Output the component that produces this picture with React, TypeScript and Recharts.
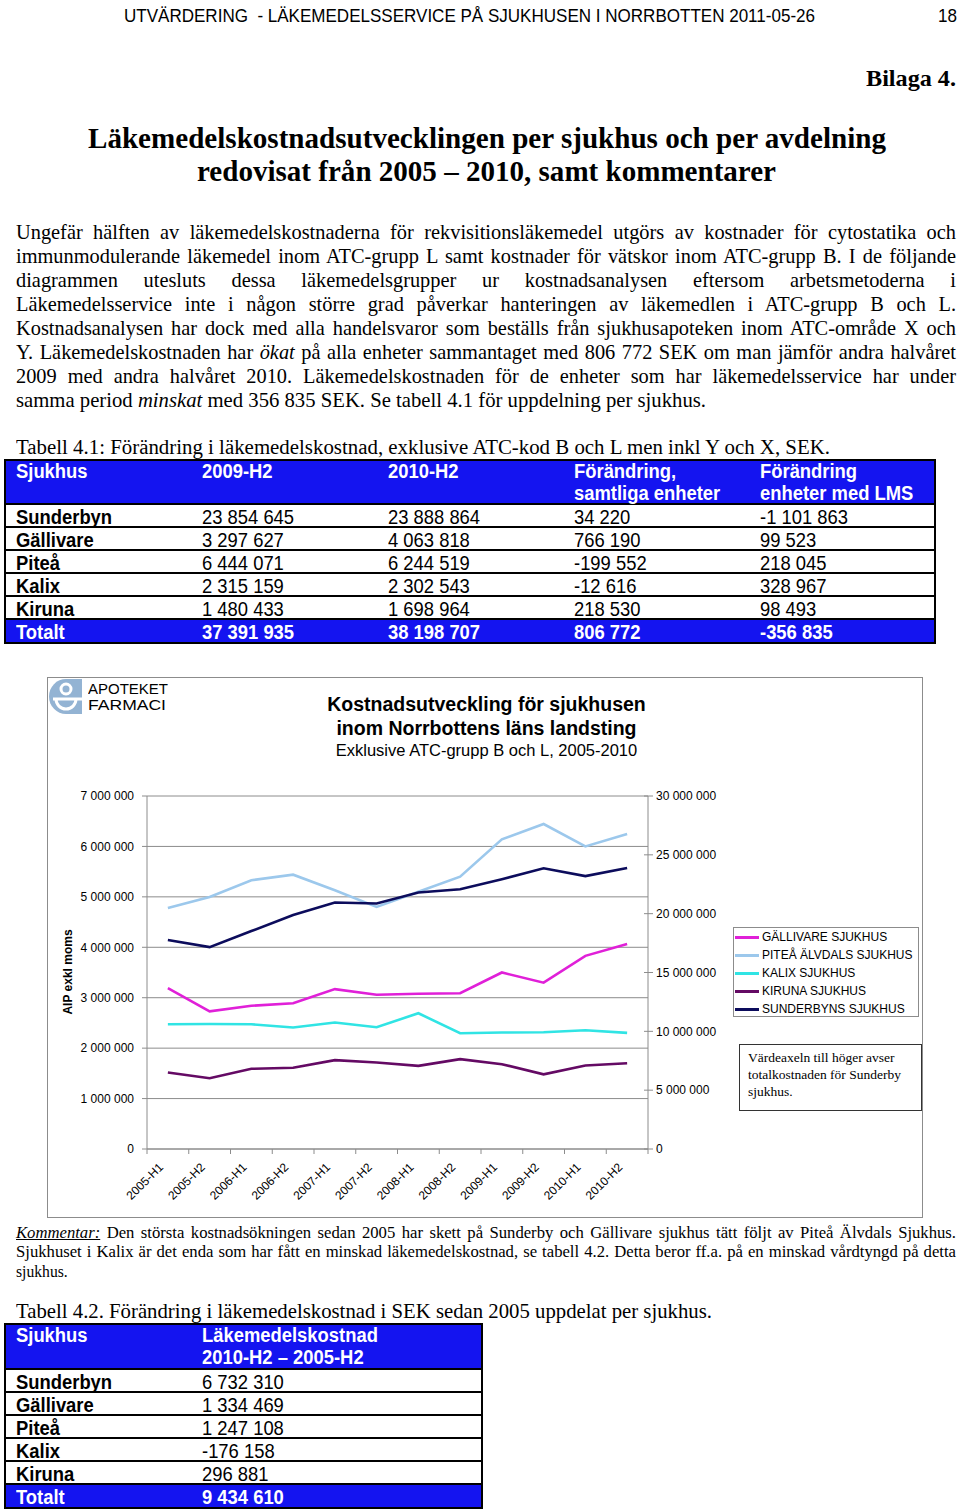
import React, { useLayoutEffect, useRef, useState } from 'react';
import { LineChart, Line, XAxis, YAxis, CartesianGrid } from 'recharts';

const periods = ['2005-H1', '2005-H2', '2006-H1', '2006-H2', '2007-H1', '2007-H2', '2008-H1', '2008-H2', '2009-H1', '2009-H2', '2010-H1', '2010-H2'];
const gallivare = [3190000, 2729349, 2840000, 2890000, 3170000, 3060000, 3080000, 3090000, 3500000, 3297627, 3830000, 4063818];
const pitea = [4780000, 4997411, 5330000, 5440000, 5130000, 4800000, 5100000, 5400000, 6140000, 6444071, 6000000, 6244519];
const kalix = [2474000, 2478701, 2474000, 2408000, 2507000, 2415000, 2692000, 2296000, 2309000, 2315159, 2355000, 2302543];
const kiruna = [1517000, 1402083, 1590000, 1610000, 1762000, 1715000, 1649000, 1781000, 1682000, 1480433, 1656000, 1698964];
const sunderbyn = [17760000, 17156554, 18520000, 19880000, 20950000, 20870000, 21800000, 22080000, 22930000, 23854645, 23190000, 23888864];
const leftTicks = [0, 1000000, 2000000, 3000000, 4000000, 5000000, 6000000, 7000000];
const rightTicks = [0, 5000000, 10000000, 15000000, 20000000, 25000000, 30000000];

const hospitals = ['Sunderbyn', 'Gällivare', 'Piteå', 'Kalix', 'Kiruna'];
const cost2009H2 = ['23 854 645', '3 297 627', '6 444 071', '2 315 159', '1 480 433'];
const cost2010H2 = ['23 888 864', '4 063 818', '6 244 519', '2 302 543', '1 698 964'];
const changeAll = ['34 220', '766 190', '-199 552', '-12 616', '218 530'];
const changeLms = ['-1 101 863', '99 523', '218 045', '328 967', '98 493'];
const total41 = ['Totalt', '37 391 935', '38 198 707', '806 772', '-356 835'];
const change2005 = ['6 732 310', '1 334 469', '1 247 108', '-176 158', '296 881'];
const total42 = ['Totalt', '9 434 610'];

const SERIF = '"Liberation Serif", "Times New Roman", serif';
const SANS = '"Liberation Sans", Arial, sans-serif';
const AXIS = '#8c8c8c';
const BLUE = '#1414f0';

const series = [
  { key: 'gallivare', name: 'GÄLLIVARE SJUKHUS', color: '#e020d8', axis: 'left' },
  { key: 'pitea', name: 'PITEÅ ÄLVDALS SJUKHUS', color: '#9cc8ec', axis: 'left' },
  { key: 'kalix', name: 'KALIX SJUKHUS', color: '#30e4e4', axis: 'left' },
  { key: 'kiruna', name: 'KIRUNA SJUKHUS', color: '#640a64', axis: 'left' },
  { key: 'sunderbyn', name: 'SUNDERBYNS SJUKHUS', color: '#0c0c5c', axis: 'right' },
];

const chartData = periods.map((period, i) => ({
  period,
  gallivare: gallivare[i],
  pitea: pitea[i],
  kalix: kalix[i],
  kiruna: kiruna[i],
  sunderbyn: sunderbyn[i],
}));

const fmt = (v: number) => String(v).replace(/\B(?=(\d{3})+(?!\d))/g, ' ');

// chart geometry (inside the framed box)
const CH_W = 876;
const CH_H = 541;
const PLOT_LEFT = 100;
const PLOT_RIGHT = 601;
const PLOT_BOTTOM = 472;
const BAND = (PLOT_RIGHT - PLOT_LEFT) / periods.length;

type TxtProps = {
  x: number;
  y: number;
  size: number;
  family?: string;
  weight?: number | string;
  w?: number;
  mode?: 'fit' | 'justify' | 'scale';
  sx?: number;
  anchor?: 'start' | 'middle' | 'end';
  color?: string;
  children: React.ReactNode;
};

// text line that is squeezed / spread to the width it has in the scan
function Txt({ x, y, size, family = SERIF, weight = 400, w, mode = 'scale', sx = 1, anchor = 'start', color = '#000', children }: TxtProps) {
  const ref = useRef<HTMLDivElement>(null);
  const [m, setM] = useState<{ s: number; ws: number; width: number } | null>(null);
  useLayoutEffect(() => {
    const el = ref.current;
    if (!el) return;
    const nat = el.getBoundingClientRect().width;
    const gaps = (el.textContent || '').split(' ').length - 1;
    let s = sx;
    let ws = 0;
    if (mode === 'fit' && w) s = w / nat;
    if (mode === 'justify' && w) {
      if (gaps === 0 || nat * sx >= w) s = w / nat;
      else ws = (w / sx - nat) / gaps;
    }
    setM({ s, ws, width: (nat + ws * gaps) * s });
  }, []);
  let left = x;
  if (m && mode === 'scale') {
    if (anchor === 'middle') left = x - m.width / 2;
    if (anchor === 'end') left = x - m.width;
  }
  return (
    <div
      ref={ref}
      style={{
        position: 'absolute',
        left,
        top: y - size / 2,
        fontSize: size,
        lineHeight: `${size}px`,
        fontFamily: family,
        fontWeight: weight,
        color,
        whiteSpace: 'pre',
        transformOrigin: '0 0',
        transform: m ? `scaleX(${m.s})` : 'none',
        wordSpacing: m ? m.ws : 0,
        visibility: m ? 'visible' : 'hidden',
      }}
    >
      {children}
    </div>
  );
}

const PeriodTick = ({ x, payload, index }: any) => {
  const y = PLOT_BOTTOM;
  const tx = x - 4;
  const ty = y + 19;
  return (
    <g>
      <line x1={x - BAND / 2} x2={x - BAND / 2} y1={y} y2={y + 5} stroke={AXIS} />
      {index === periods.length - 1 && <line x1={x + BAND / 2} x2={x + BAND / 2} y1={y} y2={y + 5} stroke={AXIS} />}
      <text x={tx} y={ty} textAnchor="end" fontSize={12} fontFamily={SANS} fill="#000" transform={`rotate(-45 ${tx} ${ty})`}>
        {payload.value}
      </text>
    </g>
  );
};

const LeftTick = ({ y, payload }: any) => (
  <text x={PLOT_LEFT - 13} y={y} dy="0.355em" textAnchor="end" fontSize={12} fontFamily={SANS} fill="#000">
    {fmt(payload.value)}
  </text>
);

const RightTick = ({ y, payload }: any) => (
  <g>
    <line x1={PLOT_RIGHT - 4} x2={PLOT_RIGHT + 5} y1={y} y2={y} stroke={AXIS} />
    <text x={PLOT_RIGHT + 8} y={y} dy="0.355em" fontSize={12} fontFamily={SANS} fill="#000">
      {fmt(payload.value)}
    </text>
  </g>
);

type TableProps = {
  x: number;
  y: number;
  w: number;
  headH: number;
  cols: number[];
  head: string[][];
  body: string[][];
  total: string[];
};

const ROW_H = 23;

function Table({ x, y, w, headH, cols, head, body, total }: TableProps) {
  const bodyTop = y + headH;
  const totalTop = bodyTop + body.length * ROW_H;
  const bottom = totalTop + 25;
  return (
    <>
      <div style={{ position: 'absolute', left: x, top: y, width: w, height: headH, background: BLUE }} />
      <div style={{ position: 'absolute', left: x, top: totalTop, width: w, height: bottom - totalTop, background: BLUE }} />
      <div style={{ position: 'absolute', left: x, top: y, width: w, height: bottom - y, border: '2px solid #000', boxSizing: 'border-box' }} />
      {[...body.map((_, i) => bodyTop + i * ROW_H), totalTop].map((ly) => (
        <div key={ly} style={{ position: 'absolute', left: x, top: ly - 1, width: w, height: 2, background: '#000' }} />
      ))}
      {head.map((lines, c) =>
        lines.map((t, l) => (
          <Txt key={`h${c}${l}`} x={cols[c]} y={y + 12 + l * 22} size={20} family={SANS} weight={700} sx={0.92} color="#fff">
            {t}
          </Txt>
        ))
      )}
      {body.map((row, r) =>
        row.map((t, c) => (
          <Txt key={`b${r}${c}`} x={cols[c]} y={bodyTop + r * ROW_H + 12.5} size={20} family={SANS} weight={c === 0 ? 700 : 400} sx={0.92}>
            {t}
          </Txt>
        ))
      )}
      {total.map((t, c) => (
        <Txt key={`t${c}`} x={cols[c]} y={totalTop + 13} size={20} family={SANS} weight={700} sx={0.92} color="#fff">
          {t}
        </Txt>
      ))}
    </>
  );
}

const paragraph: React.ReactNode[] = [
  'Ungefär hälften av läkemedelskostnaderna för rekvisitionsläkemedel utgörs av kostnader för cytostatika och',
  'immunmodulerande läkemedel inom ATC-grupp L samt kostnader för vätskor inom ATC-grupp B. I de följande',
  'diagrammen utesluts dessa läkemedelsgrupper ur kostnadsanalysen eftersom arbetsmetoderna i',
  'Läkemedelsservice inte i någon större grad påverkar hanteringen av läkemedlen i ATC-grupp B och L.',
  'Kostnadsanalysen har dock med alla handelsvaror som beställs från sjukhusapoteken inom ATC-område X och',
  <>Y. Läkemedelskostnaden har <i>ökat</i> på alla enheter sammantaget med 806 772 SEK om man jämför andra halvåret</>,
  '2009 med andra halvåret 2010. Läkemedelskostnaden för de enheter som har läkemedelsservice har under',
];

function Logo() {
  return (
    <>
      <svg style={{ position: 'absolute', left: 49, top: 679 }} width={33} height={35}>
        <path d="M17 0 H33 V35 H17 A17 17.5 0 0 1 17 0 Z" fill="#93b3d3" />
        <circle cx={17} cy={10} r={5} fill="none" stroke="#fff" strokeWidth={3} />
        <line x1={4} x2={33} y1={20} y2={20} stroke="#fff" strokeWidth={3} />
        <path d="M7 20 A10 10 0 0 0 27 20" fill="none" stroke="#fff" strokeWidth={3} />
      </svg>
      <Txt x={88} y={689} size={14} family={SANS} w={80} mode="fit">APOTEKET</Txt>
      <Txt x={88} y={705} size={14} family={SANS} w={78} mode="fit">FARMACI</Txt>
    </>
  );
}

function Chart() {
  return (
    <>
      <div style={{ position: 'absolute', left: 47, top: 677, width: CH_W, height: CH_H, border: `1px solid ${AXIS}`, boxSizing: 'border-box' }} />
      <div style={{ position: 'absolute', left: 47, top: 677 }}>
        <LineChart width={CH_W} height={CH_H} data={chartData} margin={{ top: 119, right: 215, bottom: 9, left: 40 }}>
          <CartesianGrid vertical={false} stroke={AXIS} yAxisId="left" />
          <XAxis
            dataKey="period"
            interval={0}
            padding={{ left: BAND / 2, right: BAND / 2 }}
            axisLine={{ stroke: AXIS }}
            tickLine={false}
            tickSize={0}
            tickMargin={0}
            height={60}
            tick={(p: any) => <PeriodTick {...p} />}
          />
          <YAxis
            yAxisId="left"
            width={60}
            domain={[0, 7000000]}
            ticks={leftTicks}
            interval={0}
            tick={(p: any) => <LeftTick {...p} />}
            axisLine={{ stroke: AXIS }}
            tickLine={{ stroke: AXIS }}
            tickSize={5}
            tickMargin={8}
          />
          <YAxis
            yAxisId="right"
            orientation="right"
            width={60}
            domain={[0, 30000000]}
            ticks={rightTicks}
            interval={0}
            tick={(p: any) => <RightTick {...p} />}
            axisLine={{ stroke: AXIS }}
            tickLine={false}
            tickSize={5}
            tickMargin={3}
          />
          {series.map((s) => (
            <Line
              key={s.key}
              yAxisId={s.axis}
              type="linear"
              dataKey={s.key}
              name={s.name}
              stroke={s.color}
              strokeWidth={2.6}
              dot={false}
              isAnimationActive={false}
            />
          ))}
        </LineChart>
      </div>
      <Logo />
      <Txt x={486.5} y={705} size={19.5} family={SANS} weight={700} anchor="middle">Kostnadsutveckling för sjukhusen</Txt>
      <Txt x={486.5} y={729} size={19.5} family={SANS} weight={700} anchor="middle">inom Norrbottens läns landsting</Txt>
      <Txt x={486.5} y={750} size={16.5} family={SANS} anchor="middle">Exklusive ATC-grupp B och L, 2005-2010</Txt>
      <div
        style={{
          position: 'absolute',
          left: 68,
          top: 972,
          transform: 'translate(-50%, -50%) rotate(-90deg)',
          fontFamily: SANS,
          fontWeight: 700,
          fontSize: 12,
          whiteSpace: 'nowrap',
        }}
      >
        AIP exkl moms
      </div>
      <div style={{ position: 'absolute', left: 733, top: 927, width: 186, height: 90, border: `1px solid ${AXIS}`, boxSizing: 'border-box' }} />
      {series.map((s, i) => (
        <React.Fragment key={s.key}>
          <div style={{ position: 'absolute', left: 735, top: 935.5 + i * 18, width: 24, height: 3, background: s.color }} />
          <Txt x={762} y={937 + i * 18} size={12} family={SANS}>{s.name}</Txt>
        </React.Fragment>
      ))}
      <div style={{ position: 'absolute', left: 739, top: 1044, width: 183, height: 67, border: '1.5px solid #333', boxSizing: 'border-box' }} />
      <Txt x={748} y={1058} size={13.5}>Värdeaxeln till höger avser</Txt>
      <Txt x={748} y={1075} size={13.5}>totalkostnaden för Sunderby</Txt>
      <Txt x={748} y={1092} size={13.5}>sjukhus.</Txt>
    </>
  );
}

export default function App() {
  return (
    <div style={{ position: 'absolute', left: 0, top: 0, width: 960, height: 1510, background: '#fff', overflow: 'hidden' }}>
      <Txt x={124} y={15} size={19} family={SANS} w={691} mode="fit">UTVÄRDERING  - LÄKEMEDELSSERVICE PÅ SJUKHUSEN I NORRBOTTEN 2011-05-26</Txt>
      <Txt x={938} y={15} size={19} family={SANS} w={19} mode="fit">18</Txt>
      <Txt x={866} y={78} size={24} weight={700} w={90} mode="fit">Bilaga 4.</Txt>
      <Txt x={88} y={138} size={30} weight={700} w={798} mode="fit">Läkemedelskostnadsutvecklingen per sjukhus och per avdelning</Txt>
      <Txt x={197} y={171} size={30} weight={700} w={579} mode="fit">redovisat från 2005 – 2010, samt kommentarer</Txt>

      {paragraph.map((line, i) => (
        <Txt key={i} x={16} y={232 + i * 24} size={21} w={940} mode="justify" sx={0.97}>{line}</Txt>
      ))}
      <Txt x={16} y={400} size={21} w={690} mode="fit">
        samma period <i>minskat</i> med 356 835 SEK. Se tabell 4.1 för uppdelning per sjukhus.
      </Txt>

      <Txt x={16} y={447} size={20} w={814} mode="fit">Tabell 4.1: Förändring i läkemedelskostnad, exklusive ATC-kod B och L men inkl Y och X, SEK.</Txt>
      <Table
        x={4}
        y={459}
        w={932}
        headH={45}
        cols={[16, 202, 388, 574, 760]}
        head={[['Sjukhus'], ['2009-H2'], ['2010-H2'], ['Förändring,', 'samtliga enheter'], ['Förändring', 'enheter med LMS']]}
        body={hospitals.map((h, i) => [h, cost2009H2[i], cost2010H2[i], changeAll[i], changeLms[i]])}
        total={total41}
      />

      <Chart />

      <Txt x={16} y={1232} size={17} w={940} mode="justify" sx={0.98}>
        <i style={{ textDecoration: 'underline' }}>Kommentar:</i> Den största kostnadsökningen sedan 2005 har skett på Sunderby och Gällivare sjukhus tätt följt av Piteå Älvdals Sjukhus.
      </Txt>
      <Txt x={16} y={1251.5} size={17} w={940} mode="justify" sx={0.98}>
        Sjukhuset i Kalix är det enda som har fått en minskad läkemedelskostnad, se tabell 4.2. Detta beror ff.a. på en minskad vårdtyngd på detta
      </Txt>
      <Txt x={16} y={1271} size={17} sx={0.92}>sjukhus.</Txt>

      <Txt x={16} y={1311} size={21} w={696} mode="fit">Tabell 4.2. Förändring i läkemedelskostnad i SEK sedan 2005 uppdelat per sjukhus.</Txt>
      <Table
        x={4}
        y={1323}
        w={479}
        headH={46}
        cols={[16, 202]}
        head={[['Sjukhus'], ['Läkemedelskostnad', '2010-H2 – 2005-H2']]}
        body={hospitals.map((h, i) => [h, change2005[i]])}
        total={total42}
      />
    </div>
  );
}
